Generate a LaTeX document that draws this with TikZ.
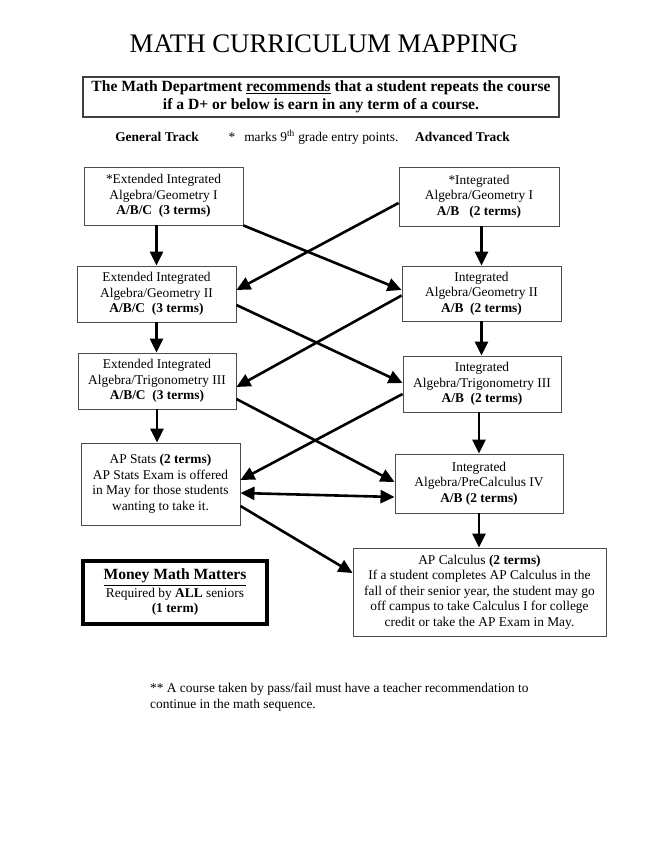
\documentclass[tikz,border=0pt]{standalone}
\usepackage{fontspec}
\setmainfont{Liberation Serif}
\usetikzlibrary{arrows.meta,calc}
\begin{document}
\begin{tikzpicture}[x=1pt,y=-1pt,
  basefont/.style={font=\fontsize{13.4}{15.5}\selectfont},
  box/.style={draw=black!70, line width=0.9pt, inner sep=0pt, align=center, basefont},
  arr/.style={line width=2.6pt, -{Triangle[length=14pt,width=13pt]}},
  darr/.style={line width=2.6pt, {Triangle[length=14pt,width=13pt]}-{Triangle[length=14pt,width=13pt]}},
]
\useasboundingbox[fill=white] (0,0) rectangle (670,850);

% title and header
\node[anchor=base, font=\fontsize{26.8}{30}\selectfont] (title) at (324,53) {MATH CURRICULUM MAPPING};
\node[draw=black!75, line width=1.2pt, inner sep=0pt, minimum width=476pt, minimum height=40pt, align=center,
      font=\fontsize{15.6}{18}\selectfont\bfseries] (rec) at (321,97)
  {The Math Department \underline{recommends} that a student repeats the course\\if a D+ or below is earn in any term of a course.};

\node[anchor=base, basefont, font=\fontsize{13.4}{15.5}\selectfont\bfseries] (gen) at (157,142) {General Track};
\node[anchor=base, basefont] (marks) at (313.5,142) {*\hspace{9pt}marks 9\textsuperscript{th} grade entry points.};
\node[anchor=base, basefont, font=\fontsize{13.4}{15.5}\selectfont\bfseries] (adv) at (462.5,142) {Advanced Track};

% general track
\node[box, minimum width=159pt, minimum height=58pt] (A1) at (163.5,196)
  {*Extended Integrated\\Algebra/Geometry I\\\textbf{A/B/C\ \ (3 terms)}};
\node[box, minimum width=159pt, minimum height=56pt] (A2) at (156.5,294)
  {Extended Integrated\\Algebra/Geometry II\\\textbf{A/B/C\ \ (3 terms)}};
\node[box, minimum width=158pt, minimum height=56pt] (A3) at (157,381)
  {Extended Integrated\\Algebra/Trigonometry III\\\textbf{A/B/C\ \ (3 terms)}};
\node[box, minimum width=159pt, minimum height=82pt] (A4) at (160.5,484)
  {AP Stats \textbf{(2 terms)}\\AP Stats Exam is offered\\in May for those students\\wanting to take it.};

% advanced track
\node[box, minimum width=160pt, minimum height=59pt] (B1) at (479,196.5)
  {*Integrated\\Algebra/Geometry I\\\textbf{A/B\ \ \ (2 terms)}};
\node[box, minimum width=159pt, minimum height=55pt] (B2) at (481.5,293.5)
  {Integrated\\Algebra/Geometry II\\\textbf{A/B\ \ (2 terms)}};
\node[box, minimum width=158pt, minimum height=56pt] (B3) at (482,384)
  {Integrated\\Algebra/Trigonometry III\\\textbf{A/B\ \ (2 terms)}};
\node[box, minimum width=168pt, minimum height=59pt] (B4) at (479,483.5)
  {Integrated\\Algebra/PreCalculus IV\\\textbf{A/B (2 terms)}};
\node[box, minimum width=253pt, minimum height=88pt] (C) at (479.5,592)
  {AP Calculus \textbf{(2 terms)}\\If a student completes AP Calculus in the\\fall of their senior year, the student may go\\off campus to take Calculus I for college\\credit or take the AP Exam in May.};

% money math
\node[draw=black, line width=3.5pt, inner sep=0pt, minimum width=184pt, minimum height=63pt, align=center, basefont] (M) at (175,592.5)
  {{\fontsize{15.6}{17}\selectfont\bfseries\underline{Money Math Matters}}\\[2pt]Required by \textbf{ALL} seniors\\\textbf{(1 term)}};

% footnote
\node[anchor=north west, inner sep=0pt, align=left, basefont] (foot) at (150,683)
  {** A course taken by pass/fail must have a teacher recommendation to\\continue in the math sequence.};

% vertical arrows
\draw[arr] (A1.south -| A2.north) -- (A2.north);
\draw[arr] (A2.south) -- (A2.south |- A3.north);
\draw[arr] (A3.south) -- (A3.south |- A4.north);
\draw[arr] (B1.south -| B2.north) -- (B2.north);
\draw[arr] (B2.south) -- (B2.south |- B3.north);
\draw[arr] (B3.south -| B4.north) -- (B4.north);
\draw[arr] (B4.south) -- (B4.south |- C.north);

% diagonal arrows
\draw[arr] (A1.south east) -- ([yshift=3.5pt]B2.west);
\draw[arr] ([yshift=-6.5pt]B1.west) -- ([yshift=4pt]A2.east);
\draw[arr] ([yshift=-11pt]A2.east) -- ([yshift=1pt]B3.west);
\draw[arr] ([yshift=-2pt]B2.west) -- ([yshift=-6pt]A3.east);
\draw[arr] ([yshift=-18pt]A3.east) -- ([yshift=1.5pt]B4.west);
\draw[arr] ([yshift=-10pt]B3.west) -- ([yshift=4pt]A4.east);
\draw[darr] ([yshift=-9pt]A4.east) -- ([yshift=-13.5pt]B4.west);
\draw[arr] ([yshift=-22pt]A4.east) -- ([yshift=19pt]C.west);
\end{tikzpicture}
\end{document}
